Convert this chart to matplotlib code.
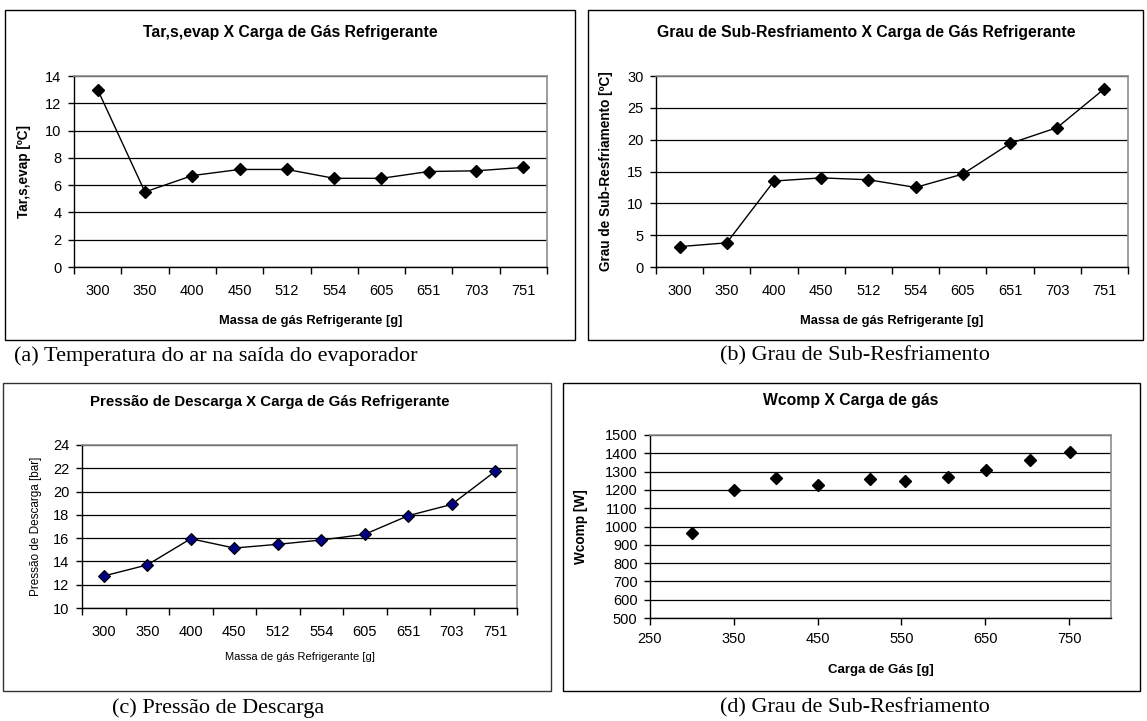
import matplotlib
matplotlib.use('Agg')
import matplotlib.pyplot as plt
from matplotlib.patches import Rectangle

W, H = 1147, 721

mass_labels = ['300', '350', '400', '450', '512', '554', '605', '651', '703', '751']
mass_g = [300, 350, 400, 450, 512, 554, 605, 651, 703, 751]
t_air = [13.0, 5.5, 6.7, 7.15, 7.15, 6.5, 6.5, 7.0, 7.05, 7.3]
subcool = [3.2, 3.8, 13.5, 14.0, 13.7, 12.5, 14.6, 19.4, 21.9, 28.0]
p_desc = [12.75, 13.7, 15.95, 15.15, 15.47, 15.84, 16.33, 17.93, 18.9, 21.74]
w_comp = [963, 1198, 1263, 1229, 1258, 1247, 1271, 1307, 1363, 1405]

plt.rcParams['font.family'] = 'Liberation Sans'

fig = plt.figure(figsize=(W / 100, H / 100), dpi=100)


def px_axes(x0, y0, x1, y1):
    return fig.add_axes([x0 / W, 1 - y1 / H, (x1 - x0) / W, (y1 - y0) / H])


def frame(x0, y0, x1, y1, color='black'):
    fig.patches.append(Rectangle((x0 / W, 1 - y1 / H), (x1 - x0) / W, (y1 - y0) / H,
                                 transform=fig.transFigure, fill=False,
                                 edgecolor=color, lw=1.0))


def ftext(x, y, s, **kw):
    fig.text(x / W, 1 - y / H, s, ha='center', va='center', **kw)


def style(ax, ymin, ymax, ystep, tick_fs=10.5):
    ax.set_ylim(ymin, ymax)
    ax.set_yticks(range(ymin, ymax + 1, ystep))
    ax.yaxis.grid(True, color='black', lw=0.9)
    ax.set_axisbelow(True)
    for s in ('top', 'right'):
        ax.spines[s].set_color('#8c8c8c')
        ax.spines[s].set_linewidth(1.2)
    for s in ('left', 'bottom'):
        ax.spines[s].set_color('black')
        ax.spines[s].set_linewidth(1.0)
    ax.tick_params(axis='y', direction='out', length=4, width=1, pad=5, labelsize=tick_fs)


def category_axis(ax, tick_fs=10.5):
    n = len(mass_labels)
    ax.set_xlim(-0.5, n - 0.5)
    ax.set_xticks([i - 0.5 for i in range(n + 1)])
    ax.set_xticklabels([])
    ax.set_xticks(range(n), minor=True)
    ax.set_xticklabels(mass_labels, minor=True)
    ax.tick_params(axis='x', which='major', direction='out', length=5, width=1)
    ax.tick_params(axis='x', which='minor', length=0, pad=12, labelsize=tick_fs)


idx = range(len(mass_labels))
mk = dict(marker='D', ms=6, mec='black')

# (a) air temperature at evaporator outlet
frame(5, 10, 575, 340)
ax = px_axes(74, 76, 547, 267)
ax.plot(idx, t_air, color='black', lw=1.0, mfc='black', **mk)
style(ax, 0, 14, 2)
category_axis(ax)
ftext(290, 32, 'Tar,s,evap X Carga de Gás Refrigerante', fontsize=11.3, fontweight='bold')
ax.set_xlabel('Massa de gás Refrigerante [g]', fontsize=9.3, fontweight='bold')
ax.xaxis.set_label_coords(0.5, -(315 - 267) / (267 - 76))
ax.set_ylabel('Tar,s,evap [ºC]', fontsize=9.8, fontweight='bold')
ax.yaxis.set_label_coords(-(74 - 31) / (547 - 74), 0.5)

# (b) subcooling degree
frame(588, 10, 1143, 340)
ax = px_axes(656, 76, 1128, 267)
ax.plot(idx, subcool, color='black', lw=1.0, mfc='black', **mk)
style(ax, 0, 30, 5)
category_axis(ax)
ftext(866, 32, 'Grau de Sub-Resfriamento X Carga de Gás Refrigerante', fontsize=11.3, fontweight='bold')
ax.set_xlabel('Massa de gás Refrigerante [g]', fontsize=9.3, fontweight='bold')
ax.xaxis.set_label_coords(0.5, -(315 - 267) / (267 - 76))
ax.set_ylabel('Grau de Sub-Resfriamento [ºC]', fontsize=9.8, fontweight='bold')
ax.yaxis.set_label_coords(-(656 - 613) / (1128 - 656), 0.5)

# (c) discharge pressure
frame(3, 383, 551, 691, color='#333333')
ax = px_axes(82, 445, 517, 608)
ax.plot(idx, p_desc, color='black', lw=1.0, mfc='#000080', mew=0.8, **mk)
style(ax, 10, 24, 2)
category_axis(ax)
ftext(270, 402, 'Pressão de Descarga X Carga de Gás Refrigerante', fontsize=10.8, fontweight='bold')
ax.set_xlabel('Massa de gás Refrigerante [g]', fontsize=8)
ax.xaxis.set_label_coords(0.5, -(652 - 608) / (608 - 445))
ax.set_ylabel('Pressão de Descarga [bar]', fontsize=8.5)
ax.yaxis.set_label_coords(-(82 - 42) / (517 - 82), 0.5)

# (d) compressor power
frame(563, 383, 1140, 691)
ax = px_axes(650, 435, 1111, 618)
ax.plot(mass_g, w_comp, ls='none', mfc='black', **mk)
style(ax, 500, 1500, 100)
ax.set_xlim(250, 800)
ax.set_xticks(range(250, 751, 100))
ax.tick_params(axis='x', direction='out', length=5, width=1, pad=5, labelsize=10.5)
ftext(851, 400, 'Wcomp X Carga de gás', fontsize=11.3, fontweight='bold')
ax.set_xlabel('Carga de Gás [g]', fontsize=9.5, fontweight='bold')
ax.xaxis.set_label_coords(0.5, -(664 - 618) / (618 - 435))
ax.set_ylabel('Wcomp [W]', fontsize=9.8, fontweight='bold')
ax.yaxis.set_label_coords(-(650 - 588) / (1111 - 650), 0.5)

# captions below each panel
cap = dict(fontsize=16, family='Liberation Serif')
ftext(216, 356, '(a) Temperatura do ar na saída do evaporador', **cap)
ftext(855, 356, '(b) Grau de Sub-Resfriamento', **cap)
ftext(218, 708, '(c) Pressão de Descarga', **cap)
ftext(855, 708, '(d) Grau de Sub-Resfriamento', **cap)

fig.savefig('out.png', dpi=100)
